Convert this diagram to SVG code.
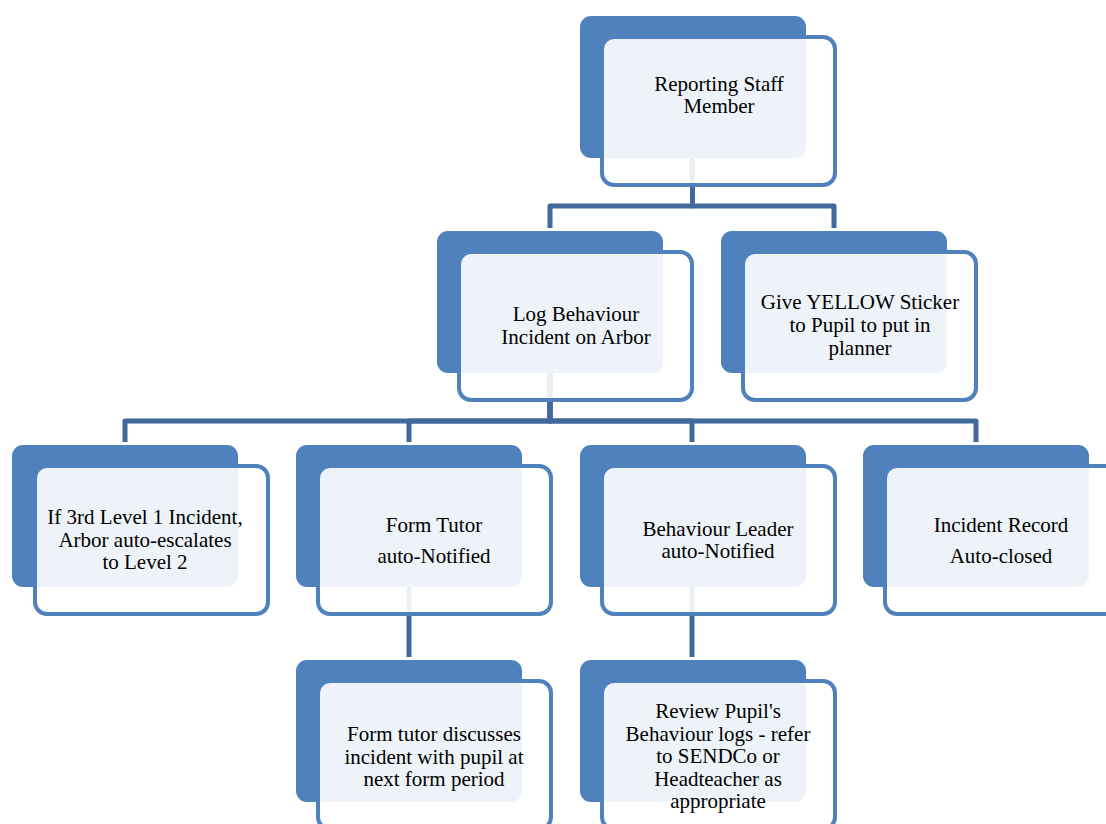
<svg xmlns="http://www.w3.org/2000/svg" width="1106" height="824" viewBox="0 0 1106 824">
<style>
.back{fill:#4F81BD;}
.front{fill:#FFFFFF;fill-opacity:0.9;stroke:#4F81BD;stroke-width:4;}
.conn{fill:none;stroke:#41699C;stroke-width:5;stroke-linejoin:round;}
.t{font-family:"Liberation Serif","Times New Roman",serif;font-size:21px;fill:#000;text-anchor:middle;}
</style>
<rect width="1106" height="824" fill="#FFFFFF"/>
<g id="connectors">
<path class="conn" d="M692.5,157 V206 H550 V228"/>
<path class="conn" d="M692.5,157 V206 H834 V228"/>
<path class="conn" d="M550,372 V421 H125 V442"/>
<path class="conn" d="M550,372 V421 H409 V442"/>
<path class="conn" d="M550,372 V421 H692 V442"/>
<path class="conn" d="M550,372 V421 H976 V442"/>
<path class="conn" d="M409,587 V657"/>
<path class="conn" d="M692,587 V657"/>
</g>
<g id="node-reporting">
<rect class="back" x="580" y="16" width="226" height="142" rx="11"/>
<rect class="front" x="602" y="37" width="233" height="148" rx="12"/>
<text class="t" x="719" y="91">Reporting Staff</text>
<text class="t" x="719" y="113">Member</text>
</g>
<g id="node-log">
<rect class="back" x="437" y="231" width="226" height="142" rx="11"/>
<rect class="front" x="459" y="252" width="233" height="148" rx="12"/>
<text class="t" x="576" y="321">Log Behaviour</text>
<text class="t" x="576" y="344">Incident on Arbor</text>
</g>
<g id="node-sticker">
<rect class="back" x="721" y="231" width="226" height="142" rx="11"/>
<rect class="front" x="743" y="252" width="233" height="148" rx="12"/>
<text class="t" x="860" y="309">Give YELLOW Sticker</text>
<text class="t" x="860" y="332">to Pupil to put in</text>
<text class="t" x="860" y="355">planner</text>
</g>
<g id="node-escalate">
<rect class="back" x="12" y="445" width="226" height="142" rx="11"/>
<rect class="front" x="35" y="466" width="233" height="148" rx="12"/>
<text class="t" x="145" y="524">If 3rd Level 1 Incident,</text>
<text class="t" x="145" y="547">Arbor auto-escalates</text>
<text class="t" x="145" y="569">to Level 2</text>
</g>
<g id="node-formtutor">
<rect class="back" x="296" y="445" width="226" height="142" rx="11"/>
<rect class="front" x="318" y="466" width="233" height="148" rx="12"/>
<text class="t" x="434" y="532">Form Tutor</text>
<text class="t" x="434" y="563">auto-Notified</text>
</g>
<g id="node-behaviourleader">
<rect class="back" x="580" y="445" width="226" height="142" rx="11"/>
<rect class="front" x="602" y="466" width="233" height="148" rx="12"/>
<text class="t" x="718" y="536">Behaviour Leader</text>
<text class="t" x="718" y="558">auto-Notified</text>
</g>
<g id="node-closed">
<rect class="back" x="863" y="445" width="226" height="142" rx="11"/>
<rect class="front" x="885" y="466" width="233" height="148" rx="12"/>
<text class="t" x="1001" y="532">Incident Record</text>
<text class="t" x="1001" y="563">Auto-closed</text>
</g>
<g id="node-discuss">
<rect class="back" x="296" y="660" width="226" height="142" rx="11"/>
<rect class="front" x="318" y="681" width="233" height="148" rx="12"/>
<text class="t" x="434" y="741">Form tutor discusses</text>
<text class="t" x="434" y="764">incident with pupil at</text>
<text class="t" x="434" y="786">next form period</text>
</g>
<g id="node-review">
<rect class="back" x="580" y="660" width="226" height="142" rx="11"/>
<rect class="front" x="602" y="681" width="233" height="148" rx="12"/>
<text class="t" x="718" y="718">Review Pupil's</text>
<text class="t" x="718" y="740.5">Behaviour logs - refer</text>
<text class="t" x="718" y="763">to SENDCo or</text>
<text class="t" x="718" y="785.5">Headteacher as</text>
<text class="t" x="718" y="808">appropriate</text>
</g>
</svg>
